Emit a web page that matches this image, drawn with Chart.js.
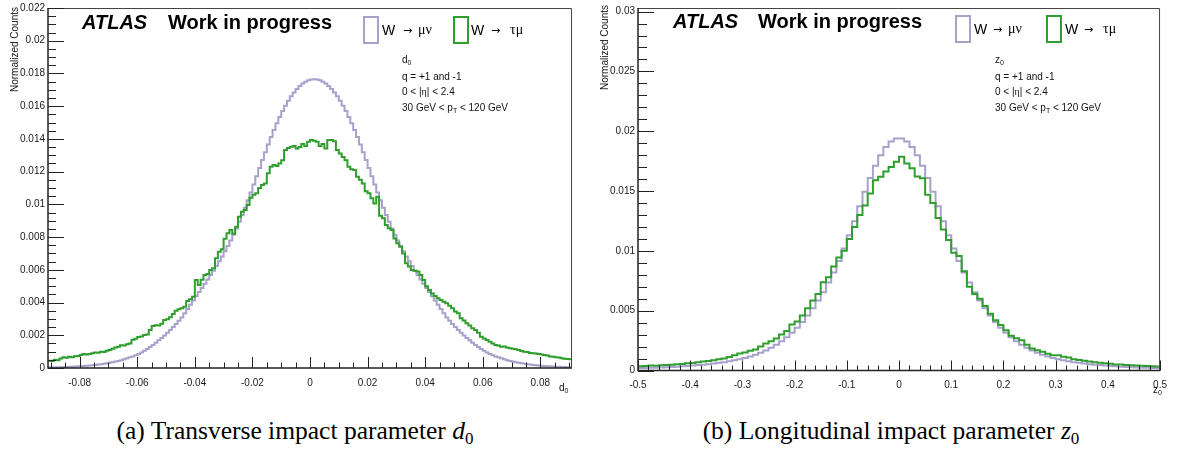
<!DOCTYPE html>
<html>
<head>
<meta charset="utf-8">
<script src="https://cdn.jsdelivr.net/npm/chart.js@4.4.1/dist/chart.umd.min.js"></script>
<style>
  body { margin: 0; width: 1177px; height: 454px; background: #fff; position: relative; overflow: hidden; font-family: "Liberation Sans", Arial, sans-serif; }
  canvas { position: absolute; top: 0; }
  .ov { position: absolute; white-space: nowrap; line-height: 1; color: #000; z-index: 2; }
  .atlas { font: italic bold 20px "Liberation Sans", Arial, sans-serif; }
  .wip { font: bold 20px "Liberation Sans", Arial, sans-serif; }
  .lgbox { position: absolute; width: 12px; height: 24px; border: 2px solid; background: #fff; z-index: 2; }
  .lgtxt { font-size: 14px; }
  .arrow { font: 11px "DejaVu Sans", sans-serif; }
  .greek { font-family: "Liberation Serif", serif; }
  .stats { font-size: 10px; line-height: 15.5px; color: #111; }
  .s { font-size: 7px; position: relative; top: 2px; }
  .ytitle { font-size: 10px; line-height: 12px; width: 200px; text-align: right; transform-origin: 0 0; transform: rotate(-90deg); color: #111; }
  .xtitle { font-size: 10px; color: #111; }
  .cap { font: 25.5px "Liberation Serif", serif; width: 600px; text-align: center; }
  .cap .s { font-size: 17px; top: 5px; }
</style>
</head>
<body>
<canvas id="d0Chart" width="590" height="400" style="left:0px"></canvas>
<canvas id="z0Chart" width="587" height="400" style="left:590px"></canvas>

<!-- left panel labels -->
<div class="ov atlas" style="left:82px; top:11px;">ATLAS</div>
<div class="ov wip" style="left:168px; top:11px;">Work in progress</div>
<div class="lgbox" id="lgMu1" style="left:363px; top:16px;"></div>
<div class="ov lgtxt" style="left:382px; top:23px;">W</div>
<div class="ov arrow" style="left:403px; top:24px;">→</div>
<div class="ov lgtxt greek" style="left:418px; top:23px;">μν</div>
<div class="lgbox" id="lgTau1" style="left:453px; top:16px;"></div>
<div class="ov lgtxt" style="left:471px; top:23px;">W</div>
<div class="ov arrow" style="left:491px; top:24px;">→</div>
<div class="ov lgtxt greek" style="left:510px; top:23px;">τμ</div>
<div class="ov stats" style="left:402px; top:52px;">
  <div>d<span class="s">0</span></div>
  <div>q = +1 and -1</div>
  <div>0 &lt; |<span class="greek">η</span>| &lt; 2.4</div>
  <div>30 GeV &lt; p<span class="s">T</span> &lt; 120 GeV</div>
</div>
<div class="ov ytitle" style="left:9px; top:207px;">Normalized Counts</div>
<div class="ov xtitle" style="left:559px; top:383px;">d<span class="s">0</span></div>
<div class="ov cap" style="left:-5px; top:416px;">(a) Transverse impact parameter <i>d</i><span class="s">0</span></div>

<!-- right panel labels -->
<div class="ov atlas" style="left:673px; top:10px;">ATLAS</div>
<div class="ov wip" style="left:758px; top:10px;">Work in progress</div>
<div class="lgbox" id="lgMu2" style="left:955px; top:15px;"></div>
<div class="ov lgtxt" style="left:974px; top:22px;">W</div>
<div class="ov arrow" style="left:993px; top:23px;">→</div>
<div class="ov lgtxt greek" style="left:1008px; top:22px;">μν</div>
<div class="lgbox" id="lgTau2" style="left:1046px; top:15px;"></div>
<div class="ov lgtxt" style="left:1065px; top:22px;">W</div>
<div class="ov arrow" style="left:1084px; top:23px;">→</div>
<div class="ov lgtxt greek" style="left:1103px; top:22px;">τμ</div>
<div class="ov stats" style="left:995px; top:52px;">
  <div>z<span class="s">0</span></div>
  <div>q = +1 and -1</div>
  <div>0 &lt; |<span class="greek">η</span>| &lt; 2.4</div>
  <div>30 GeV &lt; p<span class="s">T</span> &lt; 120 GeV</div>
</div>
<div class="ov ytitle" style="left:599px; top:205px;">Normalized Counts</div>
<div class="ov xtitle" style="left:1153px; top:385px;">z<span class="s">0</span></div>
<div class="ov cap" style="left:591px; top:416px;">(b) Longitudinal impact parameter <i>z</i><span class="s">0</span></div>

<script>
const MU_COLOR = "#a7a2cb";
const TAU_COLOR = "#2f9e2f";

// d0 histograms: 182 bins of 0.001 from -0.091 to 0.091
const d0Lo = -0.091;
const d0BinWidth = 0.001;
const d0Hi = 0.091;
const d0Mu = [
  0.00003, 0.00004, 0.00004, 0.00005, 0.00005, 0.00006, 0.00006, 0.00007, 0.00008, 0.00009,
  0.00010, 0.00011, 0.00012, 0.00014, 0.00015, 0.00017, 0.00019, 0.00021, 0.00023, 0.00026,
  0.00029, 0.00032, 0.00035, 0.00039, 0.00043, 0.00048, 0.00053, 0.00059, 0.00065, 0.00071,
  0.00078, 0.00086, 0.00095, 0.00105, 0.00116, 0.00128, 0.00141, 0.00155, 0.00169, 0.00184,
  0.00199, 0.00215, 0.00232, 0.00250, 0.00269, 0.00288, 0.00309, 0.00334, 0.00360, 0.00386,
  0.00412, 0.00438, 0.00464, 0.00489, 0.00515, 0.00541, 0.00568, 0.00595, 0.00623, 0.00652,
  0.00682, 0.00713, 0.00745, 0.00779, 0.00815, 0.00853, 0.00893, 0.00935, 0.00979, 0.01025,
  0.01073, 0.01122, 0.01172, 0.01222, 0.01271, 0.01319, 0.01366, 0.01411, 0.01454, 0.01495,
  0.01534, 0.01570, 0.01603, 0.01633, 0.01660, 0.01684, 0.01705, 0.01723, 0.01738, 0.01750,
  0.01758, 0.01763,
  0.01765, 0.01763, 0.01758, 0.01750, 0.01738, 0.01723, 0.01705, 0.01684, 0.01660, 0.01633,
  0.01603, 0.01570, 0.01534, 0.01495, 0.01454, 0.01411, 0.01366, 0.01319, 0.01271, 0.01222,
  0.01172, 0.01122, 0.01073, 0.01025, 0.00979, 0.00935, 0.00893, 0.00853, 0.00815, 0.00779,
  0.00745, 0.00713, 0.00682, 0.00652, 0.00623, 0.00595, 0.00568, 0.00541, 0.00515, 0.00489,
  0.00464, 0.00438, 0.00412, 0.00386, 0.00360, 0.00334, 0.00309, 0.00288, 0.00269, 0.00250,
  0.00232, 0.00215, 0.00199, 0.00184, 0.00169, 0.00155, 0.00141, 0.00128, 0.00116, 0.00105,
  0.00095, 0.00086, 0.00078, 0.00071, 0.00065, 0.00059, 0.00053, 0.00048, 0.00043, 0.00039,
  0.00035, 0.00032, 0.00029, 0.00026, 0.00023, 0.00021, 0.00019, 0.00017, 0.00015, 0.00014,
  0.00012, 0.00011, 0.00010, 0.00009, 0.00008, 0.00007, 0.00006, 0.00006, 0.00005, 0.00005
];
const d0Tau = [
  0.00045, 0.00043, 0.00050, 0.00048, 0.00058, 0.00066, 0.00062, 0.00068, 0.00065, 0.00072,
  0.00073, 0.00080, 0.00085, 0.00082, 0.00086, 0.00090, 0.00095, 0.00093, 0.00100, 0.00098,
  0.00106, 0.00110, 0.00118, 0.00125, 0.00130, 0.00139, 0.00137, 0.00145, 0.00150, 0.00172,
  0.00178, 0.00190, 0.00193, 0.00202, 0.00205, 0.00232, 0.00257, 0.00262, 0.00260, 0.00270,
  0.00293, 0.00298, 0.00310, 0.00330, 0.00350, 0.00359, 0.00365, 0.00375, 0.00410, 0.00420,
  0.00436, 0.00538, 0.00507, 0.00540, 0.00568, 0.00575, 0.00599, 0.00610, 0.00670, 0.00711,
  0.00725, 0.00790, 0.00823, 0.00843, 0.00820, 0.00863, 0.00925, 0.00955, 0.00965, 0.00996,
  0.01040, 0.01058, 0.01068, 0.01100, 0.01118, 0.01128, 0.01190, 0.01230, 0.01240, 0.01235,
  0.01250, 0.01270, 0.01332, 0.01345, 0.01352, 0.01357, 0.01342, 0.01350, 0.01369, 0.01357,
  0.01383, 0.01393, 0.01388, 0.01383, 0.01357, 0.01369, 0.01342, 0.01393, 0.01393, 0.01385,
  0.01332, 0.01311, 0.01290, 0.01270, 0.01230, 0.01215, 0.01210, 0.01169, 0.01150, 0.01128,
  0.01080, 0.01068, 0.01037, 0.01006, 0.01047, 0.00930, 0.00915, 0.00874, 0.00854, 0.00843,
  0.00792, 0.00762, 0.00741, 0.00700, 0.00640, 0.00620, 0.00599, 0.00595, 0.00589, 0.00568,
  0.00538, 0.00500, 0.00477, 0.00456, 0.00440, 0.00426, 0.00416, 0.00405, 0.00395, 0.00380,
  0.00365, 0.00345, 0.00334, 0.00304, 0.00290, 0.00273, 0.00260, 0.00243, 0.00232, 0.00215,
  0.00191, 0.00180, 0.00171, 0.00160, 0.00150, 0.00140, 0.00138, 0.00130, 0.00132, 0.00126,
  0.00120, 0.00118, 0.00115, 0.00110, 0.00104, 0.00100, 0.00098, 0.00092, 0.00090, 0.00088,
  0.00086, 0.00082, 0.00080, 0.00076, 0.00070, 0.00068, 0.00065, 0.00064, 0.00060, 0.00057,
  0.00055, 0.00053
];
const d0XTicks = [-0.08, -0.06, -0.04, -0.02, 0, 0.02, 0.04, 0.06, 0.08];
const d0XLabels = ["-0.08", "-0.06", "-0.04", "-0.02", "0", "0.02", "0.04", "0.06", "0.08"];
const d0YTicks = [0, 0.002, 0.004, 0.006, 0.008, 0.01, 0.012, 0.014, 0.016, 0.018, 0.02, 0.022];
const d0YLabels = ["0", "0.002", "0.004", "0.006", "0.008", "0.01", "0.012", "0.014", "0.016", "0.018", "0.02", "0.022"];

// z0 histograms: 100 bins of 0.01 from -0.5 to 0.5
const z0Lo = -0.5;
const z0BinWidth = 0.01;
const z0Hi = 0.5;
const z0Mu = [
  0.00020, 0.00021, 0.00022, 0.00024, 0.00026, 0.00028, 0.00030, 0.00032, 0.00035, 0.00038,
  0.00041, 0.00045, 0.00049, 0.00053, 0.00058, 0.00064, 0.00070, 0.00077, 0.00085, 0.00094,
  0.00105, 0.00118, 0.00132, 0.00149, 0.00168, 0.00190, 0.00216, 0.00245, 0.00278, 0.00315,
  0.00357, 0.00405, 0.00460, 0.00520, 0.00585, 0.00655, 0.00735, 0.00820, 0.00915, 0.01020,
  0.01130, 0.01248, 0.01373, 0.01495, 0.01610, 0.01712, 0.01799, 0.01868, 0.01915, 0.01940,
  0.01940, 0.01915, 0.01868, 0.01799, 0.01712, 0.01610, 0.01495, 0.01373, 0.01248, 0.01130,
  0.01020, 0.00915, 0.00820, 0.00735, 0.00655, 0.00585, 0.00520, 0.00460, 0.00405, 0.00357,
  0.00315, 0.00278, 0.00245, 0.00216, 0.00190, 0.00168, 0.00149, 0.00132, 0.00118, 0.00105,
  0.00094, 0.00085, 0.00077, 0.00070, 0.00064, 0.00058, 0.00053, 0.00049, 0.00045, 0.00041,
  0.00038, 0.00035, 0.00032, 0.00030, 0.00028, 0.00026, 0.00024, 0.00022, 0.00021, 0.00020
];
const z0Tau = [
  0.00036, 0.00038, 0.00042, 0.00040, 0.00044, 0.00046, 0.00048, 0.00052, 0.00055, 0.00060,
  0.00062, 0.00068, 0.00075, 0.00080, 0.00086, 0.00094, 0.00101, 0.00112, 0.00128, 0.00143,
  0.00150, 0.00165, 0.00175, 0.00200, 0.00225, 0.00245, 0.00267, 0.00300, 0.00330, 0.00385,
  0.00410, 0.00460, 0.00520, 0.00585, 0.00640, 0.00737, 0.00780, 0.00870, 0.00944, 0.01000,
  0.01100, 0.01200, 0.01300, 0.01380, 0.01480, 0.01590, 0.01620, 0.01663, 0.01700, 0.01745,
  0.01787, 0.01731, 0.01690, 0.01621, 0.01607, 0.01469, 0.01400, 0.01275, 0.01179, 0.01090,
  0.00985, 0.00958, 0.00830, 0.00700, 0.00640, 0.00600, 0.00540, 0.00474, 0.00419, 0.00380,
  0.00336, 0.00290, 0.00270, 0.00253, 0.00215, 0.00184, 0.00170, 0.00156, 0.00140, 0.00128,
  0.00128, 0.00115, 0.00109, 0.00095, 0.00088, 0.00081, 0.00075, 0.00070, 0.00065, 0.00060,
  0.00056, 0.00051, 0.00050, 0.00046, 0.00043, 0.00042, 0.00040, 0.00037, 0.00035, 0.00034
];
const z0XTicks = [-0.5, -0.4, -0.3, -0.2, -0.1, 0, 0.1, 0.2, 0.3, 0.4, 0.5];
const z0XLabels = ["-0.5", "-0.4", "-0.3", "-0.2", "-0.1", "0", "0.1", "0.2", "0.3", "0.4", "0.5"];
const z0YTicks = [0, 0.005, 0.01, 0.015, 0.02, 0.025, 0.03];
const z0YLabels = ["0", "0.005", "0.01", "0.015", "0.02", "0.025", "0.03"];

Chart.defaults.font.family = '"Liberation Sans", Arial, sans-serif';

document.querySelectorAll("#lgMu1, #lgMu2").forEach(el => el.style.borderColor = MU_COLOR);
document.querySelectorAll("#lgTau1, #lgTau2").forEach(el => el.style.borderColor = TAU_COLOR);

// step histogram: point at each low edge, plus closing point at the last high edge
function histPoints(lo, width, values) {
    const pts = values.map((v, i) => ({ x: lo + i * width, y: v }));
    pts.push({ x: lo + values.length * width, y: values[values.length - 1] });
    return pts;
}

// ROOT-like frame with inward major/minor ticks
const rootFrame = {
    id: "rootFrame",
    afterDraw(chart, args, o) {
        const { ctx, chartArea: a } = chart;
        const xs = chart.scales.x, ys = chart.scales.y;
        ctx.save();
        ctx.strokeStyle = "#444";
        ctx.lineWidth = 1;
        ctx.beginPath();
        ctx.moveTo(a.left, a.top + 0.5);
        ctx.lineTo(a.right - 0.5, a.top + 0.5);
        ctx.lineTo(a.right - 0.5, a.bottom);
        ctx.stroke();

        ctx.strokeStyle = "#222";
        ctx.lineWidth = 1.5;
        ctx.beginPath();
        ctx.moveTo(a.left, a.top);
        ctx.lineTo(a.left, a.bottom);
        ctx.lineTo(a.right, a.bottom);
        ctx.stroke();

        ctx.lineWidth = 1;
        ctx.beginPath();
        const n0 = Math.ceil(xs.min / o.xMinor - 1e-6), n1 = Math.floor(xs.max / o.xMinor + 1e-6);
        for (let i = n0; i <= n1; i++) {
            const px = Math.round(xs.getPixelForValue(i * o.xMinor)) + 0.5;
            ctx.moveTo(px, a.bottom);
            ctx.lineTo(px, a.bottom - o.xMinorLen);
        }
        o.xMajor.forEach(v => {
            const px = Math.round(xs.getPixelForValue(v)) + 0.5;
            ctx.moveTo(px, a.bottom);
            ctx.lineTo(px, a.bottom - o.xMajorLen);
        });
        const m0 = Math.ceil(ys.min / o.yMinor - 1e-6), m1 = Math.floor(ys.max / o.yMinor + 1e-6);
        for (let i = m0; i <= m1; i++) {
            const py = Math.round(ys.getPixelForValue(i * o.yMinor)) + 0.5;
            ctx.moveTo(a.left, py);
            ctx.lineTo(a.left + o.yMinorLen, py);
        }
        o.yMajor.forEach(v => {
            const py = Math.round(ys.getPixelForValue(v)) + 0.5;
            ctx.moveTo(a.left, py);
            ctx.lineTo(a.left + o.yMajorLen, py);
        });
        ctx.stroke();
        ctx.restore();
    }
};

function makeHistChart(id, cfg) {
    return new Chart(document.getElementById(id), {
        type: "line",
        data: {
            datasets: [
                { label: "W → τμ", data: histPoints(cfg.lo, cfg.width, cfg.tau), borderColor: TAU_COLOR, order: 0 },
                { label: "W → μν", data: histPoints(cfg.lo, cfg.width, cfg.mu), borderColor: MU_COLOR, order: 1 }
            ]
        },
        options: {
            responsive: false,
            animation: false,
            devicePixelRatio: 1,
            events: [],
            layout: { padding: { top: cfg.padTop, right: cfg.padRight, left: 0, bottom: 0 } },
            datasets: { line: { stepped: "before", borderWidth: 2, pointRadius: 0, fill: false, tension: 0 } },
            plugins: {
                legend: { display: false },
                tooltip: { enabled: false },
                rootFrame: cfg.frame
            },
            scales: {
                x: {
                    type: "linear",
                    min: cfg.lo,
                    max: cfg.hi,
                    afterBuildTicks: s => { s.ticks = cfg.xTicks.map(value => ({ value })); },
                    afterFit: s => { s.height = cfg.xAxisHeight; },
                    grid: { display: false, drawTicks: false, tickLength: 0 },
                    border: { display: false },
                    ticks: {
                        autoSkip: false, maxRotation: 0, padding: 10, color: "#1a1a1a",
                        font: { size: 10, lineHeight: 1 },
                        callback: (v, i) => cfg.xLabels[i]
                    }
                },
                y: {
                    type: "linear",
                    min: 0,
                    max: cfg.yMax,
                    afterBuildTicks: s => { s.ticks = cfg.yTicks.map(value => ({ value })); },
                    afterFit: s => { s.width = 48; },
                    grid: { display: false, drawTicks: false, tickLength: 0 },
                    border: { display: false },
                    ticks: {
                        autoSkip: false, padding: 3, color: "#1a1a1a",
                        font: { size: 10, lineHeight: 1 },
                        callback: (v, i) => cfg.yLabels[i]
                    }
                }
            }
        },
        plugins: [rootFrame]
    });
}

makeHistChart("d0Chart", {
    lo: d0Lo, hi: d0Hi, width: d0BinWidth, mu: d0Mu, tau: d0Tau,
    xTicks: d0XTicks, xLabels: d0XLabels, yTicks: d0YTicks, yLabels: d0YLabels,
    yMax: 0.022, padTop: 7, padRight: 18, xAxisHeight: 32,
    frame: { xMinor: 0.005, yMinor: 0.0005, xMajor: d0XTicks, yMajor: d0YTicks,
             xMajorLen: 11, xMinorLen: 5.5, yMajorLen: 16, yMinorLen: 8 }
});

makeHistChart("z0Chart", {
    lo: z0Lo, hi: z0Hi, width: z0BinWidth, mu: z0Mu, tau: z0Tau,
    xTicks: z0XTicks, xLabels: z0XLabels, yTicks: z0YTicks, yLabels: z0YLabels,
    yMax: 0.0303, padTop: 5, padRight: 11, xAxisHeight: 29.5,
    frame: { xMinor: 0.02, yMinor: 0.001, xMajor: z0XTicks, yMajor: z0YTicks,
             xMajorLen: 10, xMinorLen: 5, yMajorLen: 16, yMinorLen: 9 }
});
</script>
</body>
</html>
